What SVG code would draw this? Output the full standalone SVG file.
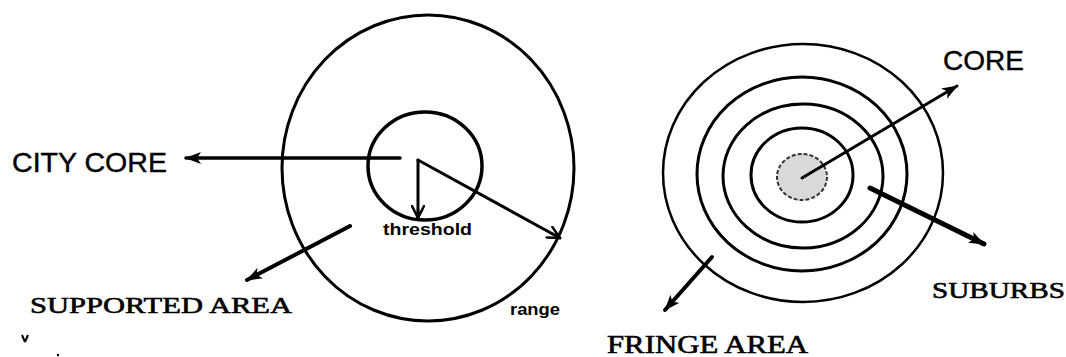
<svg xmlns="http://www.w3.org/2000/svg" width="1066" height="357" viewBox="0 0 1066 357">
<style>
.ring{fill:none;stroke:#000;stroke-width:3}
.arr{fill:none;stroke:#000;stroke-width:3.5;stroke-linecap:round}
.sans{font-family:"Liberation Sans",Arial,sans-serif;fill:#000;stroke:#000;stroke-width:0.4}
.serif{font-family:"Liberation Serif","Times New Roman",serif;fill:#000;stroke:#000;stroke-width:0.6}
.small{font-family:"Liberation Sans",Arial,sans-serif;font-weight:bold;font-size:17px;fill:#000}
</style>
<defs>
<marker id="ah" viewBox="0 0 16 12" markerUnits="userSpaceOnUse" markerWidth="16" markerHeight="12" refX="15" refY="6" orient="auto">
<path d="M0,0 L16,6 L0,12 L4,6 z" fill="#000"/>
</marker>
<marker id="oh" viewBox="0 0 14 14" markerUnits="userSpaceOnUse" markerWidth="14" markerHeight="14" refX="13" refY="7" orient="auto">
<path d="M1,1 L13,7 L1,13 M4,7 L13,7" fill="none" stroke="#000" stroke-width="2.5" stroke-linecap="round"/>
</marker>
</defs>
<g id="left-figure">
<g id="range-circle"><ellipse class="ring" cx="428" cy="168" rx="146" ry="153"/></g>
<g id="threshold-circle"><ellipse class="ring" cx="425" cy="166" rx="57" ry="54" style="stroke-width:3.5"/></g>
</g>
<g id="right-figure">
<g id="fringe-ring"><ellipse class="ring" cx="803" cy="173" rx="140" ry="129" style="stroke-width:2.5"/></g>
<g id="ring-2"><ellipse class="ring" cx="802" cy="174" rx="105" ry="97"/></g>
<g id="ring-3"><ellipse class="ring" cx="803" cy="176" rx="80" ry="72"/></g>
<g id="ring-4"><ellipse class="ring" cx="802" cy="175" rx="51" ry="47"/></g>
<g id="core"><ellipse cx="802" cy="177" rx="25" ry="23" fill="#d9d9d9" stroke="#333" stroke-width="2" stroke-dasharray="4 2"/></g>
</g>
<g id="connectors">
<line class="arr" x1="400" y1="158" x2="186" y2="158" marker-end="url(#ah)"/>
<line class="arr" x1="418" y1="160" x2="418" y2="218" marker-end="url(#oh)" style="stroke-width:3"/>
<line class="arr" x1="418" y1="160" x2="560" y2="238" marker-end="url(#oh)" style="stroke-width:3"/>
<line class="arr" x1="350" y1="226" x2="247" y2="280" marker-end="url(#ah)" style="stroke-width:4"/>
<line class="arr" x1="802" y1="178" x2="957" y2="86" marker-end="url(#ah)" style="stroke-width:3"/>
<line class="arr" x1="870" y1="188" x2="984" y2="244" marker-end="url(#ah)" style="stroke-width:5"/>
<line class="arr" x1="712" y1="257" x2="665" y2="310" marker-end="url(#ah)" style="stroke-width:4"/>
</g>
<g id="labels">
<text class="sans" x="12" y="172" font-size="28" textLength="155" lengthAdjust="spacingAndGlyphs">CITY CORE</text>
<text class="small" x="383" y="235" textLength="89" lengthAdjust="spacingAndGlyphs">threshold</text>
<text class="small" x="510" y="315" textLength="50" lengthAdjust="spacingAndGlyphs">range</text>
<text class="serif" x="30" y="313" font-size="24" textLength="262" lengthAdjust="spacingAndGlyphs">SUPPORTED AREA</text>
<text class="sans" x="943" y="70" font-size="28" textLength="81" lengthAdjust="spacingAndGlyphs">CORE</text>
<text class="serif" x="932" y="298" font-size="24" textLength="133" lengthAdjust="spacingAndGlyphs">SUBURBS</text>
<text class="serif" x="607" y="353" font-size="25" textLength="201" lengthAdjust="spacingAndGlyphs">FRINGE AREA</text>
</g>
<g id="marks">
<path d="M22,335 L25,342 M28,335 L25,342" fill="none" stroke="#000" stroke-width="2"/>
<circle cx="58" cy="355" r="1.2" fill="#000"/>
</g>
</svg>
